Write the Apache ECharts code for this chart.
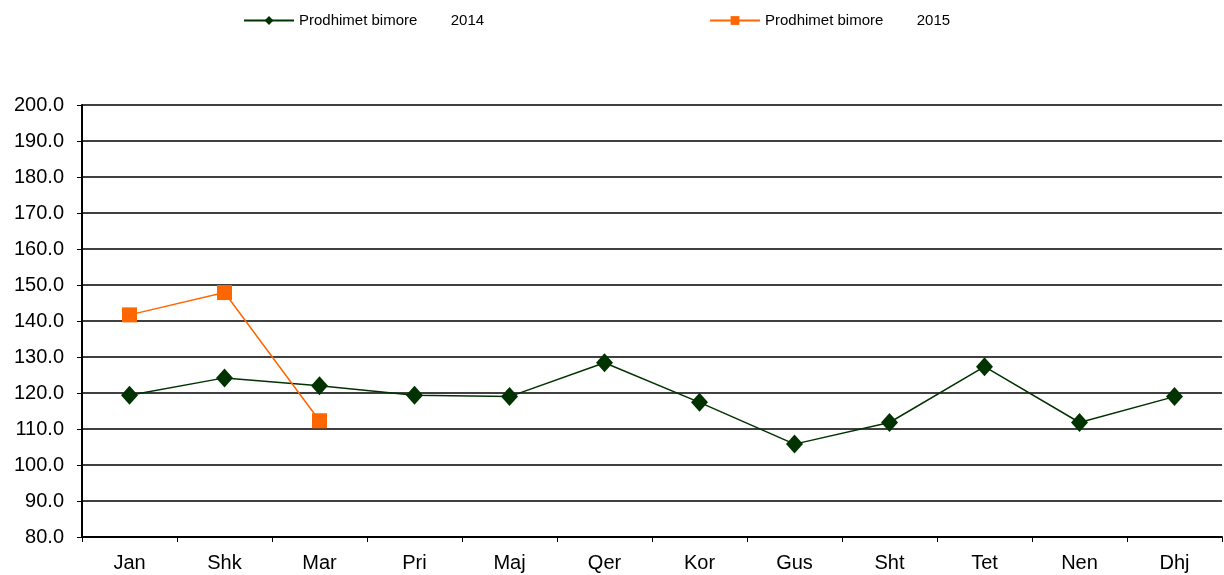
<!DOCTYPE html>
<html>
<head>
<meta charset="utf-8">
<script src="https://cdn.jsdelivr.net/npm/echarts@6/dist/echarts.min.js"></script>
<style>
  html, body { margin: 0; padding: 0; background: #fff; }
  #main { width: 1224px; height: 575px; }
</style>
</head>
<body>
<div id="main"></div>
<script>
var months = ['Jan', 'Shk', 'Mar', 'Pri', 'Maj', 'Qer', 'Kor', 'Gus', 'Sht', 'Tet', 'Nen', 'Dhj'];
var values2014 = [119.4, 124.2, 122.0, 119.4, 119.0, 128.4, 117.4, 105.8, 111.8, 127.3, 111.8, 119.0];
var values2015 = [141.7, 147.9, 112.3];
var name2014 = 'Prodhimet bimore        2014';
var name2015 = 'Prodhimet bimore        2015';

var myChart = echarts.init(document.getElementById('main'));

// legenda: dy elemente te ndara si ne origjinal
var legendText = { fontSize: 15, color: '#000', fontFamily: 'Liberation Sans' };

var option = {
    animation: false,
    backgroundColor: '#fff',
    legend: [
        {
            data: [name2014],
            left: 238, top: 8,
            itemWidth: 50, itemHeight: 11,
            textStyle: legendText
        },
        {
            data: [name2015],
            left: 704, top: 8,
            itemWidth: 50, itemHeight: 11,
            textStyle: legendText
        }
    ],
    grid: { left: 82, right: 2, top: 105, bottom: 38 },
    xAxis: {
        type: 'category',
        data: months,
        boundaryGap: true,
        axisLine: { lineStyle: { color: '#000', width: 2 } },
        axisTick: { show: true, length: 5, lineStyle: { color: '#000', width: 1 } },
        axisLabel: { fontSize: 20, color: '#000', fontFamily: 'Liberation Sans', margin: 16 }
    },
    yAxis: {
        type: 'value',
        min: 80, max: 200, interval: 10,
        axisLine: { show: true, lineStyle: { color: '#000', width: 2 } },
        axisTick: { show: true, length: 5, lineStyle: { color: '#000', width: 1 } },
        axisLabel: {
            fontSize: 20, color: '#000', fontFamily: 'Liberation Sans', margin: 18,
            formatter: function (v) { return v.toFixed(1); }
        },
        splitLine: { lineStyle: { color: '#000', width: 1.5 } }
    },
    series: [
        {
            name: name2014,
            type: 'line',
            data: values2014,
            symbol: 'diamond',
            symbolSize: [17, 19],
            itemStyle: { color: '#003300' },
            lineStyle: { color: '#003300', width: 1.5 }
        },
        {
            name: name2015,
            type: 'line',
            data: values2015,
            symbol: 'rect',
            symbolSize: 15,
            itemStyle: { color: '#ff6600' },
            lineStyle: { color: '#ff6600', width: 1.5 }
        }
    ]
};

myChart.setOption(option);
</script>
</body>
</html>
